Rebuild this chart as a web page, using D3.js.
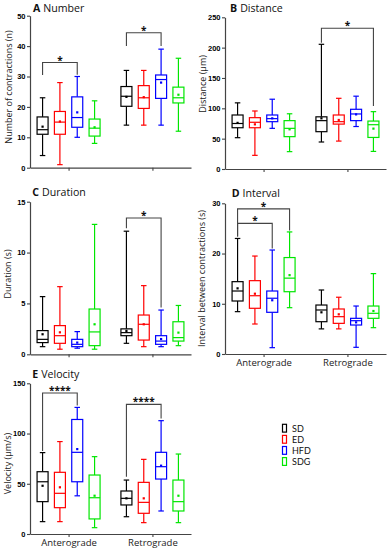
<!DOCTYPE html>
<html lang="en">
<head>
<meta charset="UTF-8">
<title>Contraction box plots</title>
<script src="https://d3js.org/d3.v7.min.js"></script>
<style>
  body { margin: 0; background: #fff; }
  svg { display: block; }
</style>
</head>
<body>
<svg width="387" height="550"></svg>
<script>
const groups = ["Anterograde", "Retrograde"];
const series = ["SD", "ED", "HFD", "SDG"];

// each row: [min, q1, median, q3, max, mean]
// rows 0-3 Anterograde SD, ED, HFD, SDG; rows 4-7 Retrograde SD, ED, HFD, SDG
const numberStats = [
  [4, 11, 12.5, 16.7, 23, 13.5],
  [1, 11, 15, 18.5, 28, 15.2],
  [10, 13.3, 16.5, 23.3, 30, 18.2],
  [8, 10.4, 13, 16, 22, 13.3],
  [14, 20.2, 23.5, 26.7, 32, 23.3],
  [14, 19.5, 23, 27, 32, 23.2],
  [14, 22.8, 29, 30.5, 39, 28],
  [12, 21.3, 23, 26.5, 36, 24]
];
const distanceStats = [
  [51.6, 68, 75, 89, 109, 76],
  [22.5, 68, 77, 84.6, 95.6, 73.6],
  [67, 78, 83, 89, 115, 83.5],
  [28.6, 53.3, 67, 79.7, 91, 65.4],
  [44.5, 61.5, 79.7, 86, 205.5, 83.5],
  [46, 74, 78, 89, 116.5, 80.8],
  [70, 79.7, 90.7, 98.4, 120, 90],
  [29, 52, 73, 79, 94.5, 66.5]
];
const durationStats = [
  [0.75, 1.15, 1.47, 2.33, 5.67, 1.97],
  [0.5, 1.08, 1.83, 2.82, 6.65, 2.16],
  [0.6, 0.75, 0.98, 1.47, 2.23, 1.15],
  [0.5, 0.85, 2.2, 4.45, 12.77, 2.95],
  [1.08, 1.83, 2.13, 2.5, 12.1, 2.3],
  [0.75, 1.4, 2.95, 3.86, 6.75, 2.95],
  [0.75, 0.98, 1.3, 1.83, 4.35, 1.5],
  [0.85, 1.3, 1.64, 3.2, 4.8, 2.13]
];
const intervalStats = [
  [8.43, 10.55, 12.54, 14.4, 23, 13.07],
  [5.97, 9.1, 11.6, 14.6, 19.5, 12.0],
  [1.26, 8.3, 11.1, 12.54, 20.7, 10.7],
  [9.22, 12.4, 15.1, 19.2, 24.3, 15.7],
  [5.0, 6.43, 8.76, 9.75, 12.74, 8.3],
  [5.0, 6.1, 7.43, 8.96, 11.3, 7.9],
  [1.33, 5.77, 6.63, 7.1, 9.55, 6.3],
  [5.24, 7.1, 8.1, 9.55, 16, 8.56]
];
const velocityStats = [
  [12.3, 32.2, 52, 62, 81, 48],
  [12.3, 26.2, 40.5, 61.4, 92, 46.5],
  [38, 52, 81.3, 114, 126, 84.5],
  [6.3, 15, 36.1, 58.7, 77, 38.1],
  [17.2, 28.9, 35.5, 42.8, 53.7, 35.5],
  [11.3, 20.6, 31.5, 51.4, 74.3, 35.5],
  [22.9, 54.7, 67, 81.3, 112.8, 68],
  [11.3, 22.9, 32.2, 53.7, 79.6, 38.1]
];

// y ticks
const numberTicks = [0, 10, 20, 30, 40, 50];
const distanceTicks = [0, 50, 100, 150, 200, 250];
const durationTicks = [0, 5, 10, 15];
const intervalTicks = [0, 10, 20, 30];
const velocityTicks = [0, 50, 100, 150];

// significance brackets: top of bracket and where each leg ends (data units)
const numberSig = [
  { group: "Anterograde", from: "SD", to: "HFD", top: 34.6, a: 30.5, b: 30.6, label: "*" },
  { group: "Retrograde", from: "SD", to: "HFD", top: 44.4, a: 40, b: 40, label: "*" }
];
const distanceSig = [
  { group: "Retrograde", from: "SD", to: "SDG", top: 232, a: 208, b: 104, label: "*" }
];
const durationSig = [
  { group: "Retrograde", from: "SD", to: "HFD", top: 13.4, a: 12.4, b: 4.6, label: "*" }
];
const intervalSig = [
  { group: "Anterograde", from: "SD", to: "HFD", top: 26, a: 23.4, b: 21, label: "*" },
  { group: "Anterograde", from: "SD", to: "SDG", top: 28.9, a: 23.4, b: 24.6, label: "*" }
];
const velocitySig = [
  { group: "Anterograde", from: "SD", to: "HFD", top: 140.4, a: 82.5, b: 128, label: "****" },
  { group: "Retrograde", from: "SD", to: "HFD", top: 129, a: 57, b: 115, label: "****" }
];

const color = d3.scaleOrdinal(series, ["#000000", "#ff0000", "#0000ff", "#00e600"]);
const svg = d3.select("svg");
const axisColor = "#444";
const sans = "'Open Sans', 'Noto Sans', sans-serif";

function drawPanel(p) {
  const g = svg.append("g");
  const x = d3.scalePoint(groups, [p.left, p.right]).padding(0.46);
  const dx = d3.scalePoint(series, [-26, 26]);
  const y = d3.scaleLinear(p.domain, [p.bottom, p.top]);
  const boxW = 11, capW = 5.5;

  // y axis
  const ya = g.append("g")
    .attr("transform", `translate(${p.left},0)`)
    .call(d3.axisLeft(y).tickValues(p.ticks).tickSize(3).tickSizeOuter(0).tickPadding(1.5));
  ya.select(".domain").attr("stroke", axisColor).attr("stroke-width", 1.2);
  ya.selectAll(".tick line").attr("stroke", axisColor).attr("stroke-width", 1.1);
  ya.selectAll(".tick text")
    .attr("font-family", "'Liberation Sans', Arial, sans-serif")
    .attr("font-weight", "bold").attr("font-size", 7.5).attr("fill", "#000");

  // x axis
  const xa = g.append("g")
    .attr("transform", `translate(0,${p.bottom})`)
    .call(d3.axisBottom(x).tickSize(3).tickSizeOuter(0).tickPadding(2.3)
      .tickFormat(p.xLabels ? d => d : () => ""));
  xa.select(".domain").attr("stroke", axisColor).attr("stroke-width", 1.2);
  xa.selectAll(".tick line").attr("stroke", axisColor).attr("stroke-width", 1.1);
  xa.selectAll(".tick text")
    .attr("font-family", sans).attr("font-size", 9.5).attr("fill", "#222");

  // y label
  g.append("text")
    .attr("transform", `translate(${p.labelX},${p.labelY}) rotate(-90)`)
    .attr("text-anchor", "middle")
    .attr("font-family", sans).attr("font-size", 9).attr("fill", "#222")
    .text(p.yLabel);

  // title
  const t = g.append("text")
    .attr("x", p.titleX).attr("y", p.titleY)
    .attr("font-family", sans).attr("font-size", 10.6).attr("fill", "#111");
  t.append("tspan").attr("font-weight", "bold").text(p.letter);
  t.append("tspan").attr("dx", 3).text(p.name);

  // boxes
  p.stats.forEach((s, i) => {
    const grp = groups[Math.floor(i / 4)];
    const ser = series[i % 4];
    const cx = x(grp) + dx(ser);
    const c = color(ser);
    const [mn, q1, med, q3, mx, mean] = s;
    const b = g.append("g").attr("stroke", c).attr("stroke-width", 1.2).attr("fill", "none");
    b.append("line").attr("x1", cx).attr("x2", cx).attr("y1", y(mn)).attr("y2", y(q1));
    b.append("line").attr("x1", cx).attr("x2", cx).attr("y1", y(q3)).attr("y2", y(mx));
    b.append("line").attr("x1", cx - capW / 2).attr("x2", cx + capW / 2).attr("y1", y(mn)).attr("y2", y(mn));
    b.append("line").attr("x1", cx - capW / 2).attr("x2", cx + capW / 2).attr("y1", y(mx)).attr("y2", y(mx));
    b.append("rect").attr("x", cx - boxW / 2).attr("width", boxW)
      .attr("y", y(q3)).attr("height", y(q1) - y(q3)).attr("fill", "#fff");
    b.append("line").attr("x1", cx - boxW / 2).attr("x2", cx + boxW / 2).attr("y1", y(med)).attr("y2", y(med));
    g.append("rect").attr("x", cx - 1.1).attr("y", y(mean) - 1.1)
      .attr("width", 2.2).attr("height", 2.2).attr("fill", c);
  });

  // significance brackets
  p.sig.forEach(d => {
    const x1 = x(d.group) + dx(d.from);
    const x2 = x(d.group) + dx(d.to);
    g.append("path")
      .attr("d", `M${x1},${y(d.a)}V${y(d.top)}H${x2}V${y(d.b)}`)
      .attr("fill", "none").attr("stroke", axisColor).attr("stroke-width", 1.1);
    g.append("text")
      .attr("x", (x1 + x2) / 2).attr("y", y(d.top) + 1)
      .attr("text-anchor", "middle")
      .attr("font-family", sans).attr("font-weight", "bold").attr("font-size", 10)
      .attr("fill", "#111")
      .text(d.label);
  });
}

drawPanel({ left: 30, right: 191, top: 15.7, bottom: 167.7, domain: [0, 50], ticks: numberTicks,
  stats: numberStats, sig: numberSig, letter: "A", name: "Number", titleX: 33, titleY: 11.6,
  yLabel: "Number of contractions (n)", labelX: 12, labelY: 87, xLabels: false });
drawPanel({ left: 225, right: 386, top: 17.3, bottom: 169, domain: [0, 250], ticks: distanceTicks,
  stats: distanceStats, sig: distanceSig, letter: "B", name: "Distance", titleX: 230, titleY: 11.6,
  yLabel: "Distance (μm)", labelX: 205.5, labelY: 84, xLabels: false });
drawPanel({ left: 30, right: 191, top: 201.7, bottom: 354.3, domain: [0, 15], ticks: durationTicks,
  stats: durationStats, sig: durationSig, letter: "C", name: "Duration", titleX: 32.3, titleY: 195.5,
  yLabel: "Duration (s)", labelX: 11, labelY: 274, xLabels: false });
drawPanel({ left: 225, right: 386, top: 203.3, bottom: 354, domain: [0, 30], ticks: intervalTicks,
  stats: intervalStats, sig: intervalSig, letter: "D", name: "Interval", titleX: 231.7, titleY: 196.5,
  yLabel: "Interval between contractions (s)", labelX: 205, labelY: 278.5, xLabels: true });
drawPanel({ left: 30, right: 191, top: 383.3, bottom: 534, domain: [0, 150], ticks: velocityTicks,
  stats: velocityStats, sig: velocitySig, letter: "E", name: "Velocity", titleX: 32.3, titleY: 377.5,
  yLabel: "Velocity (μm/s)", labelX: 10.5, labelY: 463.5, xLabels: true });

// legend
const legend = svg.append("g").attr("transform", "translate(282.5,424.3)");
series.forEach((s, i) => {
  const row = legend.append("g").attr("transform", `translate(0,${i * 11.1})`);
  row.append("rect").attr("width", 4).attr("height", 7.8)
    .attr("fill", "#fff").attr("stroke", color(s)).attr("stroke-width", 1.2);
  row.append("text").attr("x", 9.5).attr("y", 7.2)
    .attr("font-family", "Lato, 'Open Sans', sans-serif").attr("font-size", 9).attr("fill", "#111")
    .text(s);
});
</script>
</body>
</html>
